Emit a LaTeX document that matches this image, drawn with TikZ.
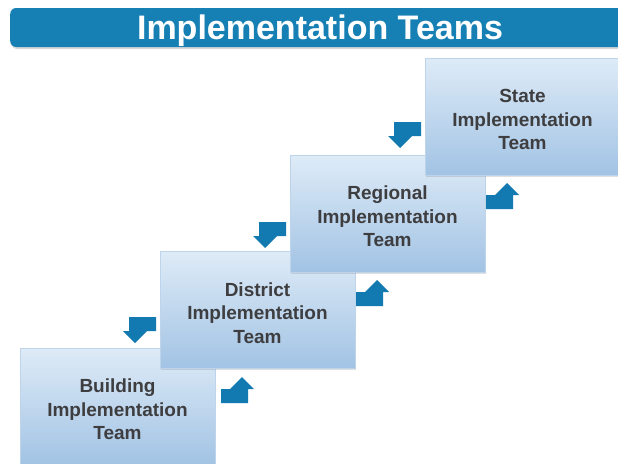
\documentclass[tikz,border=0pt]{standalone}
\usepackage{fontspec}
\setmainfont{Liberation Sans}
\usetikzlibrary{shadows}
\definecolor{barblue}{RGB}{22,128,180}
\definecolor{arrowblue}{RGB}{18,122,176}
\definecolor{boxtop}{RGB}{222,235,247}
\definecolor{boxbot}{RGB}{162,195,228}
\definecolor{boxedge}{RGB}{190,212,235}
\definecolor{teamtext}{RGB}{62,62,64}
\newcommand{\topstrut}{\rule{0pt}{19.5pt}}
\tikzset{
  teambox/.style={shape=rectangle, minimum width=195pt, minimum height=117pt,
    top color=boxtop, bottom color=boxbot, draw=boxedge, line width=0.8pt,
    align=center, text=teamtext, inner sep=0pt,
    font=\fontsize{19}{23.5}\selectfont\bfseries,
    drop shadow={opacity=0.25, shadow xshift=1pt, shadow yshift=-1.5pt}},
  titlebar/.style={shape=rectangle, fill=barblue, rounded corners=6pt,
    minimum width=640pt, minimum height=39pt, anchor=west, inner sep=0pt,
    drop shadow={opacity=0.3, shadow xshift=1pt, shadow yshift=-2pt}},
  titletext/.style={text=white, font=\fontsize{34}{40}\selectfont\bfseries, inner sep=0pt, anchor=base},
  downarr/.pic={\fill[arrowblue] (0,0) -- (27,0) -- (27,14) -- (18,14) -- (6,26) -- (-6,14) -- (0,14) -- cycle;},
  uparr/.pic={\fill[arrowblue] (0,0) -- (-27,0) -- (-27,-14) -- (-18,-14) -- (-6,-26) -- (6,-14) -- (0,-14) -- cycle;}
}
\begin{document}
\begin{tikzpicture}[x=1pt,y=-1pt]
\useasboundingbox (0,0) rectangle (618,463);
\clip (0,0) rectangle (618,463);
\fill[white] (0,0) rectangle (618,463);
% title bar
\node[titlebar] (bar) at (10,27.5) {};
\node[titletext] (title) at (320,39.5) {Implementation Teams};
% team boxes
\node[teambox] (building) at (117.5,406.5) {\topstrut Building\\Implementation\\Team};
\node[teambox] (district) at (257.5,310) {\topstrut District\\Implementation\\Team};
\node[teambox] (regional) at (387.5,213.5) {\topstrut Regional\\Implementation\\Team};
\node[teambox] (state) at (522.5,116.5) {\topstrut State\\Implementation\\Team};
% arrows
\pic at (129,317) {downarr};
\pic at (259,222) {downarr};
\pic at (394,122) {downarr};
\pic at (248,403) {uparr};
\pic at (383,306) {uparr};
\pic at (513,209) {uparr};
\end{tikzpicture}
\end{document}
